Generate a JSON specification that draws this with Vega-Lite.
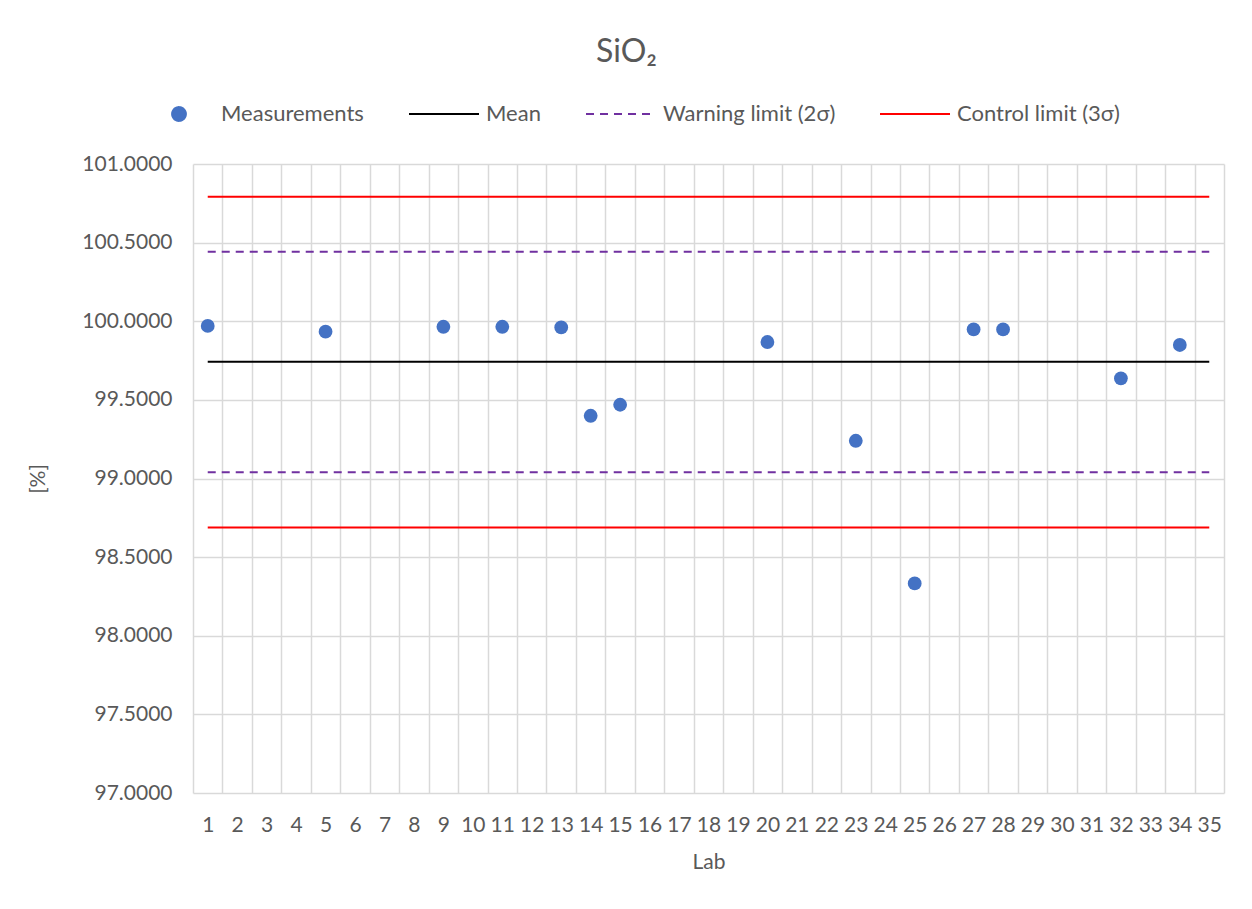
{
  "$schema": "https://vega.github.io/schema/vega-lite/v6.json",
  "autosize": {"type": "none"},
  "width": 1031,
  "height": 629,
  "padding": {"left": 193, "top": 164, "right": 28, "bottom": 116},
  "background": "white",
  "config": {
    "font": "Lato",
    "view": {"stroke": null},
    "axis": {"labelFont": "Lato", "titleFont": "Lato", "labelColor": "#595959", "titleColor": "#595959", "gridColor": "#d9d9d9", "gridWidth": 1.5, "domain": false, "ticks": false, "labelFontSize": 21, "titleFontSize": 21, "titleFontWeight": "normal"}
  },
  "title": {"text": "SiO₂", "fontSize": 32, "font": "Lato", "fontWeight": "normal", "color": "#595959", "anchor": "middle", "dx": -82, "offset": 9},
  "datasets": {
    "points": [
      {"series": "Measurements", "lab": 1, "value": 99.970},
      {"series": "Measurements", "lab": 5, "value": 99.934},
      {"series": "Measurements", "lab": 9, "value": 99.965},
      {"series": "Measurements", "lab": 11, "value": 99.965},
      {"series": "Measurements", "lab": 13, "value": 99.961},
      {"series": "Measurements", "lab": 14, "value": 99.399},
      {"series": "Measurements", "lab": 15, "value": 99.469},
      {"series": "Measurements", "lab": 20, "value": 99.868},
      {"series": "Measurements", "lab": 23, "value": 99.240},
      {"series": "Measurements", "lab": 25, "value": 98.333},
      {"series": "Measurements", "lab": 27, "value": 99.948},
      {"series": "Measurements", "lab": 28, "value": 99.948},
      {"series": "Measurements", "lab": 32, "value": 99.637},
      {"series": "Measurements", "lab": 34, "value": 99.849}
    ],
    "limits": [
      {"series": "Mean", "line": "mean", "lab": 1, "value": 99.742},
      {"series": "Mean", "line": "mean", "lab": 35, "value": 99.742},
      {"series": "Warning limit (2σ)", "line": "wu", "lab": 1, "value": 100.442},
      {"series": "Warning limit (2σ)", "line": "wu", "lab": 35, "value": 100.442},
      {"series": "Warning limit (2σ)", "line": "wl", "lab": 1, "value": 99.039},
      {"series": "Warning limit (2σ)", "line": "wl", "lab": 35, "value": 99.039},
      {"series": "Control limit (3σ)", "line": "cu", "lab": 1, "value": 100.792},
      {"series": "Control limit (3σ)", "line": "cu", "lab": 35, "value": 100.792},
      {"series": "Control limit (3σ)", "line": "cl", "lab": 1, "value": 98.689},
      {"series": "Control limit (3σ)", "line": "cl", "lab": 35, "value": 98.689}
    ]
  },
  "encoding": {
    "x": {
      "field": "lab", "type": "ordinal",
      "scale": {"domain": [1,2,3,4,5,6,7,8,9,10,11,12,13,14,15,16,17,18,19,20,21,22,23,24,25,26,27,28,29,30,31,32,33,34,35], "paddingInner": 0, "paddingOuter": 0},
      "axis": {"title": "Lab", "labelAngle": 0, "tickBand": "extent", "grid": true, "labelPadding": 21, "titlePadding": 16}
    },
    "y": {
      "field": "value", "type": "quantitative",
      "scale": {"domain": [97, 101], "nice": false, "zero": false},
      "axis": {"title": "[%]", "format": ".4f", "values": [97, 97.5, 98, 98.5, 99, 99.5, 100, 100.5, 101], "labelPadding": 21, "titlePadding": 33}
    },
    "color": {
      "field": "series", "type": "nominal",
      "scale": {"domain": ["Measurements", "Mean", "Warning limit (2σ)", "Control limit (3σ)"], "range": ["#4472C4", "#000000", "#7030A0", "#FF0000"]},
      "legend": {
        "title": null, "orient": "none", "direction": "horizontal", "legendX": -50, "legendY": -86,
        "labelFont": "Lato", "labelFontSize": 22, "labelColor": "#595959", "labelOffset": 6, "labelLimit": 400,
        "columnPadding": 41, "symbolSize": 4900, "symbolStrokeWidth": 2,
        "encode": {
          "symbols": {
            "update": {
              "shape": {"signal": "datum.value === 'Measurements' ? 'circle' : 'stroke'"},
              "size": {"signal": "datum.value === 'Measurements' ? 190 : 4900"},
              "fill": {"signal": "datum.value === 'Measurements' ? '#4472C4' : 'transparent'"},
              "stroke": {"signal": "datum.value === 'Measurements' ? 'transparent' : (datum.value === 'Mean' ? '#000000' : (datum.value === 'Control limit (3σ)' ? '#FF0000' : '#7030A0'))"},
              "strokeDash": {"signal": "datum.value === 'Warning limit (2σ)' ? [6, 5] : [1, 0]"},
              "strokeWidth": {"value": 2}
            }
          }
        }
      }
    }
  },
  "layer": [
    {
      "data": {"name": "limits"},
      "mark": {"type": "line", "strokeWidth": 2},
      "encoding": {
        "detail": {"field": "line"},
        "strokeDash": {"field": "series", "type": "nominal", "legend": null,
          "scale": {"domain": ["Measurements", "Mean", "Warning limit (2σ)", "Control limit (3σ)"], "range": [[1, 0], [1, 0], [8, 6], [1, 0]]}}
      }
    },
    {
      "data": {"name": "points"},
      "mark": {"type": "point", "filled": true, "shape": "circle", "size": 190, "opacity": 1}
    }
  ]
}
